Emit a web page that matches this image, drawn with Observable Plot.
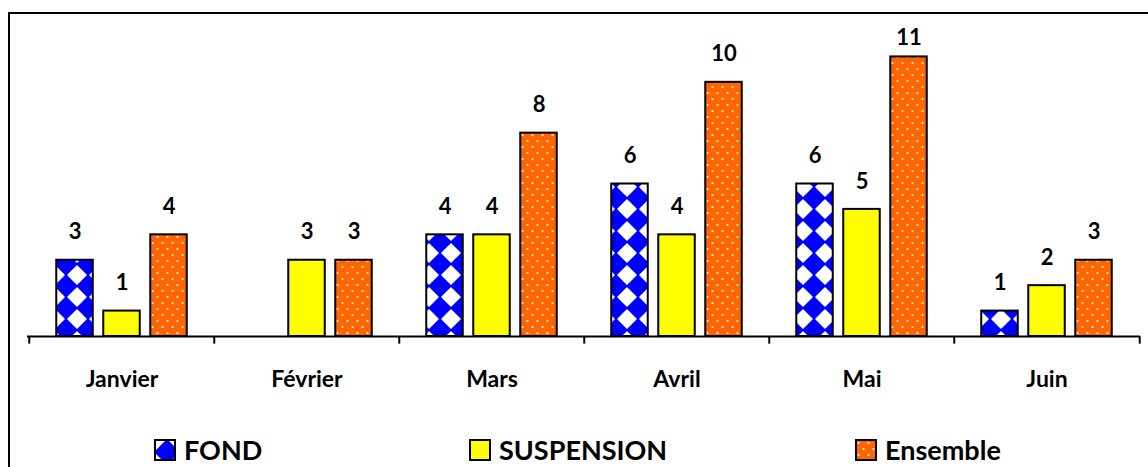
<!DOCTYPE html>
<html>
<head>
<meta charset="utf-8">
<script src="https://cdn.jsdelivr.net/npm/d3@7"></script>
<script src="https://cdn.jsdelivr.net/npm/@observablehq/plot@0.6"></script>
<style>
  html, body { margin: 0; padding: 0; background: #fff; overflow: hidden; width: 1148px; height: 467px; }
  #frame { position: absolute; left: 8px; top: 12px; width: 1300px; height: 600px; border: 2px solid #000; }
  #chart { position: absolute; left: 0; top: 0; }
  .leg { position: absolute; top: 433px; display: flex; align-items: center; font-family: Lato, sans-serif; font-weight: bold; font-size: 27px; color: #000; white-space: nowrap; }
  .leg svg { margin-right: 8px; }
</style>
</head>
<body>
<div id="frame"></div>
<div id="chart"></div>
<div id="legend"></div>
<script>
const months = ["Janvier", "Février", "Mars", "Avril", "Mai", "Juin"];
const series = ["FOND", "SUSPENSION", "Ensemble"];
const fond = [3, null, 4, 6, 6, 1];
const suspension = [1, 3, 4, 4, 5, 2];
const ensemble = [4, 3, 8, 10, 11, 3];
const fills = ["url(#pFond)", "#FFFF00", "url(#pEns)"];
const legendLeft = [154, 469, 855];

const values = [fond, suspension, ensemble];
const rows = [];
series.forEach((s, i) => months.forEach((m, j) => rows.push({month: m, series: s, si: i, value: values[i][j]})));

const W = 1148, mL = 27, mR = 8;
const B = (W - mL - mR) / months.length;
const barW = 37, gap = 10;

const marks = [];
series.forEach((s, i) => {
  const data = rows.filter(d => d.si === i && d.value != null);
  const left = B / 2 + (i - 1) * (barW + gap) - barW / 2;
  marks.push(Plot.barY(data, {
    x: "month", y: "value",
    insetLeft: left, insetRight: B - left - barW,
    fill: fills[i], stroke: "#000", strokeWidth: 2
  }));
  marks.push(Plot.text(data, {
    x: "month", y: d => Math.min(d.value + 1.1, 11.75),
    text: d => String(d.value), dx: (i - 1) * (barW + gap),
    fontSize: 22, fontWeight: "bold", lineAnchor: "middle", fill: "#000"
  }));
});
marks.push(Plot.ruleY([0], {stroke: "#000", strokeWidth: 2}));
marks.push(Plot.ruleX(months, {x: d => d, y1: 0, y2: -0.3, dx: -B / 2, stroke: "#000", strokeWidth: 2}));
marks.push(Plot.ruleX([months[months.length - 1]], {x: d => d, y1: 0, y2: -0.3, dx: B / 2, stroke: "#000", strokeWidth: 2}));
marks.push(Plot.axisX({tickSize: 0, tickPadding: 34, fontSize: 23, fontWeight: "bold", fill: "#000"}));

const plot = Plot.plot({
  width: W, height: 396,
  marginLeft: mL, marginRight: mR, marginTop: 31, marginBottom: 60,
  style: {fontFamily: "Lato, sans-serif", background: "transparent", overflow: "visible"},
  x: {domain: months, padding: 0, label: null},
  y: {domain: [0, 12], axis: null},
  marks
});

const defs = `
<pattern id="pFond" patternUnits="userSpaceOnUse" width="22" height="22">
  <rect width="22" height="22" fill="#0000FF"/>
  <polygon points="11,2 20,11 11,20 2,11" fill="#fff" stroke="#fff" stroke-width="1.5" stroke-linejoin="round"/>
</pattern>
<pattern id="pEns" patternUnits="userSpaceOnUse" width="10" height="12">
  <rect width="10" height="12" fill="#FF6600"/>
  <circle cx="2.5" cy="3" r="1.1" fill="#fff" fill-opacity="0.9"/>
  <circle cx="7.5" cy="9" r="1.1" fill="#fff" fill-opacity="0.9"/>
</pattern>`;
const d = document.createElementNS("http://www.w3.org/2000/svg", "defs");
d.innerHTML = defs;
plot.insertBefore(d, plot.firstChild);
document.getElementById("chart").appendChild(plot);

// legend
const leg = document.getElementById("legend");
series.forEach((s, i) => {
  const item = document.createElement("div");
  item.className = "leg";
  item.style.left = legendLeft[i] + "px";
  const pat = i === 0
    ? `<defs><pattern id="lgF" patternUnits="userSpaceOnUse" width="22" height="22" x="-9" y="-9"><rect width="22" height="22" fill="#0000FF"/><polygon points="11,2 20,11 11,20 2,11" fill="#fff"/></pattern></defs>`
    : i === 2
    ? `<defs><pattern id="lgE" patternUnits="userSpaceOnUse" width="10" height="12" x="1" y="1"><rect width="10" height="12" fill="#FF6600"/><circle cx="2.5" cy="3" r="1.1" fill="#fff"/><circle cx="7.5" cy="9" r="1.1" fill="#fff"/></pattern></defs>`
    : "";
  const f = i === 0 ? "url(#lgF)" : i === 2 ? "url(#lgE)" : "#FFFF00";
  item.innerHTML = `<svg width="22" height="22">${pat}<rect x="1" y="1" width="20" height="20" fill="${f}" stroke="#000" stroke-width="2"/></svg><span>${s}</span>`;
  leg.appendChild(item);
});
</script>
</body>
</html>
